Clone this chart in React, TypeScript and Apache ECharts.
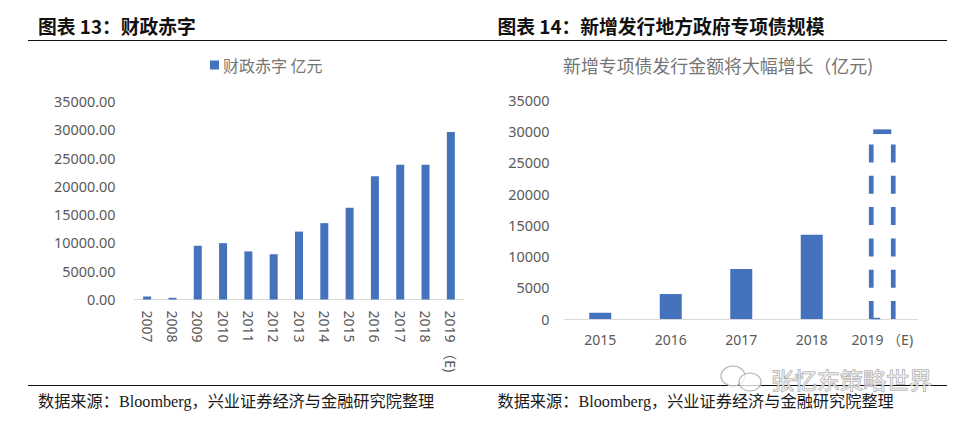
import React, { useEffect, useRef } from "react";
import * as echarts from "echarts";

const deficitYears = ["2007", "2008", "2009", "2010", "2011", "2012", "2013", "2014", "2015", "2016", "2017", "2018", "2019 （E)"];
const deficitValues = [530, 300, 9500, 9960, 8500, 8000, 12000, 13500, 16200, 21800, 23800, 23800, 29600];
const bondYears = ["2015", "2016", "2017", "2018", "2019 （E)"];
const bondValues = [1000, 4000, 8000, 13500, null];
const bondForecast = [[4, 30000]];

const BLUE = "#4472BD";
const GREY = "#595959";
const SANS = '"Noto Sans", "Noto Sans CJK SC", sans-serif';
const CJK = '"Noto Sans CJK SC", "Noto Sans", sans-serif';

export default function App() {
  const ref = useRef<HTMLDivElement>(null);
  useEffect(() => {
    const chart = echarts.init(ref.current!, null, { renderer: "svg" });
    const yAxis = (margin: number, decimals: number) => ({
      type: "value",
      min: 0,
      max: 35000,
      interval: 5000,
      axisLine: { show: false },
      axisTick: { show: false },
      splitLine: { show: false },
      axisLabel: {
        margin,
        color: GREY,
        fontFamily: SANS,
        fontSize: 14.4,
        formatter: (v: number) => v.toFixed(decimals),
      },
    });
    const xAxis = (data: string[], gridIndex: number, rotate: number, margin: number) => ({
      type: "category",
      gridIndex,
      data,
      axisTick: { show: false },
      axisLine: { lineStyle: { color: "#D9D9D9", width: 1 } },
      axisLabel: { interval: 0, rotate, margin, color: GREY, fontFamily: SANS, fontSize: 14 },
    });
    const headText = (x: number, text: string) => ({
      type: "text",
      x,
      y: 25,
      style: { text, fontFamily: CJK, fontWeight: "bold", fontSize: 18.8, fill: "#111", textVerticalAlign: "middle" },
    });
    const sourceText = (x: number) => ({
      type: "text",
      x,
      y: 401.5,
      style: {
        text: "数据来源：Bloomberg，兴业证券经济与金融研究院整理",
        fontFamily: '"Liberation Serif", "Noto Sans CJK SC", serif',
        fontSize: 16.2,
        fill: "#1a1a1a",
        textVerticalAlign: "middle",
      },
    });
    const rule = (y: number) => ({
      type: "line",
      shape: { x1: 28, y1: y, x2: 947, y2: y },
      style: { stroke: "#111", lineWidth: 1 },
    });
    const bubble = (cx: number, cy: number, rx: number, ry: number) => ({
      type: "ellipse",
      shape: { cx, cy, rx, ry },
      style: { fill: "rgba(255,255,255,0.75)", stroke: "#b4b4b4", lineWidth: 1.2 },
      z: 20,
    });
    chart.setOption({
      animation: false,
      backgroundColor: "#fff",
      title: {
        text: "新增专项债发行金额将大幅增长（亿元)",
        left: 558,
        top: 51,
        textStyle: { fontFamily: CJK, fontWeight: "normal", fontSize: 17.9, color: "#757575" },
      },
      legend: {
        left: 205,
        top: 52,
        itemWidth: 9,
        itemHeight: 9,
        itemGap: 4,
        icon: "rect",
        data: ["财政赤字 亿元"],
        textStyle: { fontFamily: CJK, fontSize: 16, color: "#757575", padding: [0, 0, 0, -1] },
      },
      grid: [
        { left: 134.5, top: 101.5, width: 329, height: 198 },
        { left: 565, top: 100.5, width: 352.5, height: 218.5 },
      ],
      xAxis: [xAxis(deficitYears, 0, -90, 11), xAxis(bondYears, 1, 0, 13)],
      yAxis: [yAxis(19, 2), { ...yAxis(15.5, 0), gridIndex: 1 }],
      series: [
        {
          name: "财政赤字 亿元",
          type: "bar",
          data: deficitValues,
          barWidth: 8,
          itemStyle: { color: BLUE },
        },
        {
          name: "新增专项债",
          type: "bar",
          xAxisIndex: 1,
          yAxisIndex: 1,
          data: bondValues,
          barWidth: 22,
          itemStyle: { color: BLUE },
        },
        {
          name: "新增专项债预测",
          type: "custom",
          xAxisIndex: 1,
          yAxisIndex: 1,
          data: bondForecast,
          encode: { x: 0, y: 1 },
          renderItem: (_p: unknown, api: any) => {
            const [cx, top] = api.coord([api.value(0), api.value(1)]);
            const [, base] = api.coord([api.value(0), 0]);
            const half = 11;
            const style = { stroke: BLUE, lineWidth: 4.7, fill: "none" };
            const side = (x: number) => ({
              type: "line",
              shape: { x1: x, y1: base, x2: x, y2: top },
              style: { ...style, lineDash: [18, 13.3] },
            });
            return {
              type: "group",
              children: [
                side(cx - half),
                side(cx + half),
                {
                  type: "line",
                  shape: { x1: cx - half + 2, y1: top, x2: cx + half - 2, y2: top },
                  style,
                },
                {
                  type: "line",
                  shape: { x1: cx - half, y1: base - 0.5, x2: cx - half + 9, y2: base - 0.5 },
                  style: { ...style, lineWidth: 1.5 },
                },
              ],
            };
          },
        },
      ],
      graphic: [
        headText(38, "图表 13：财政赤字"),
        headText(497.5, "图表 14：新增发行地方政府专项债规模"),
        rule(40.5),
        rule(385.5),
        sourceText(38),
        sourceText(497.5),
        bubble(733, 376, 12, 10),
        bubble(750, 382, 11, 9),
        {
          type: "text",
          x: 771,
          y: 379,
          z: 20,
          style: {
            text: "张忆东策略世界",
            fontFamily: CJK,
            fontSize: 23,
            fill: "rgba(255,255,255,0.6)",
            stroke: "#a0a0a0",
            lineWidth: 1,
            textVerticalAlign: "middle",
          },
        },
      ],
    });
    return () => chart.dispose();
  }, []);
  return <div ref={ref} style={{ position: "fixed", left: 0, top: 0, width: 969, height: 423 }} />;
}
